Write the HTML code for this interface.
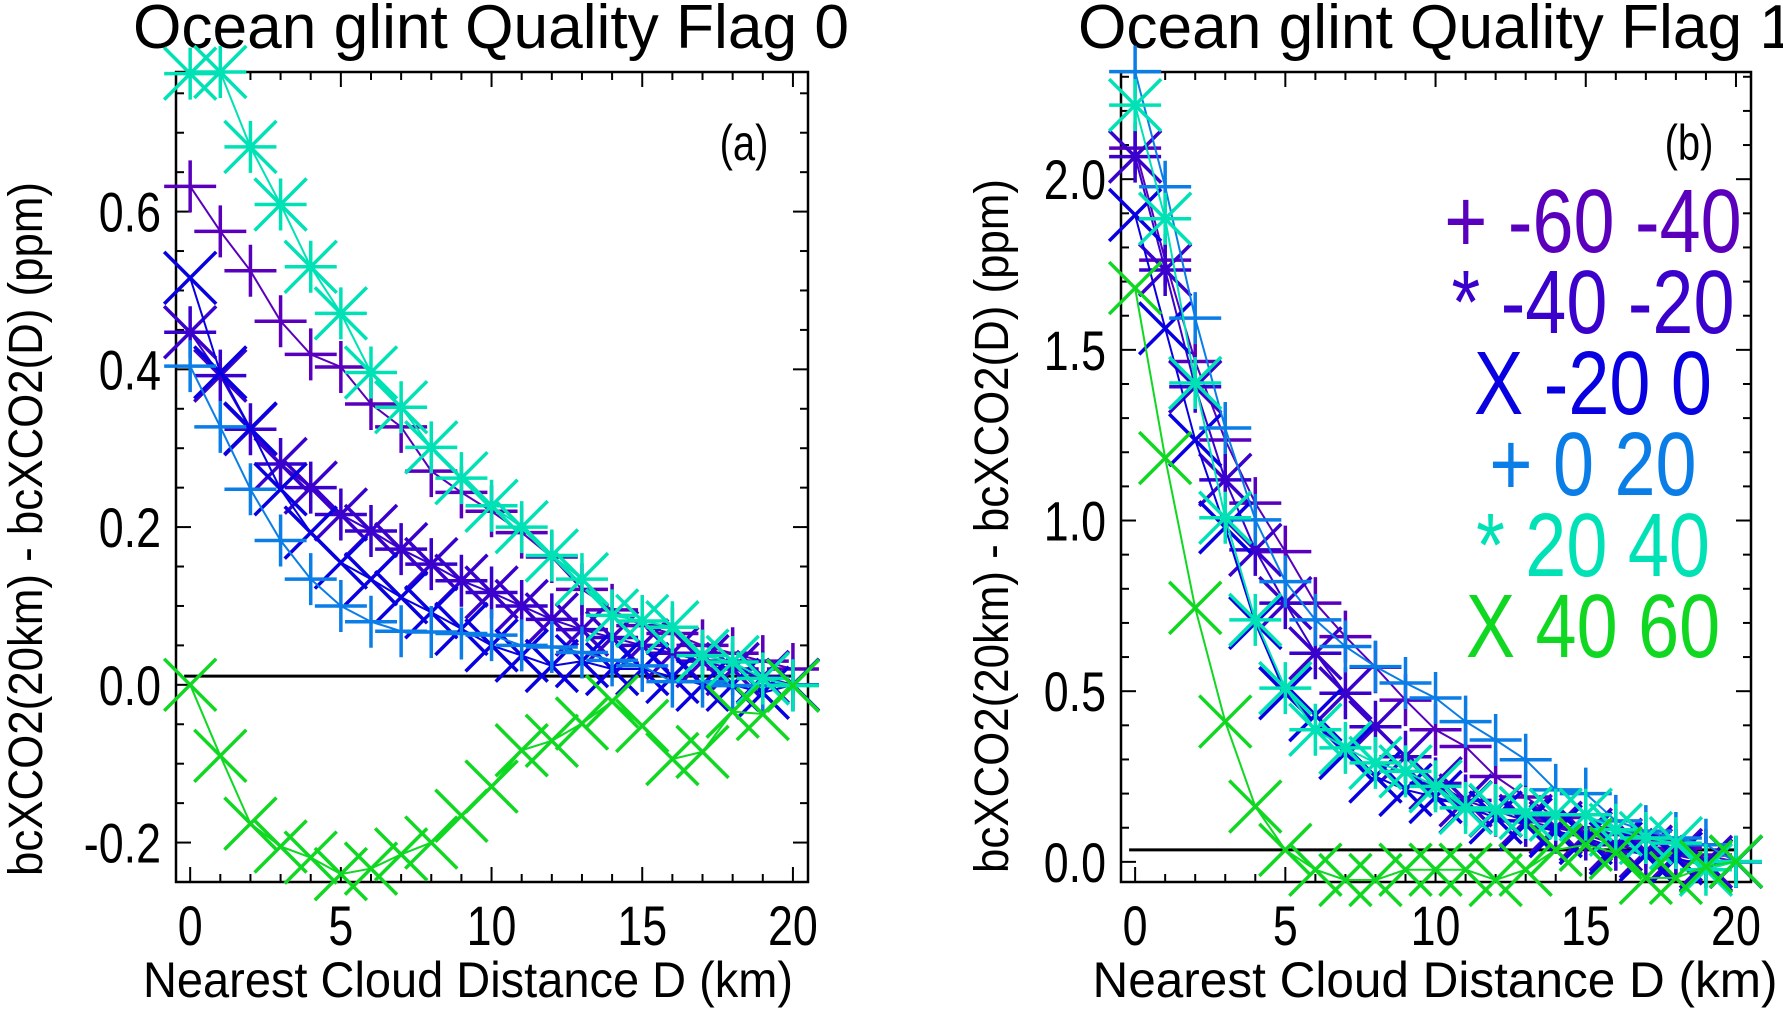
<!DOCTYPE html>
<html><head><meta charset="utf-8"><style>
html,body{margin:0;padding:0;background:#fff;}
svg{display:block;font-family:"Liberation Sans",Arial,sans-serif;}
</style></head><body>
<svg id="chart" width="1783" height="1009" viewBox="0 0 1783 1009" xmlns="http://www.w3.org/2000/svg"></svg>
<script>
const xCats = [0,1,2,3,4,5,6,7,8,9,10,11,12,13,14,15,16,17,18,19,20];
const seriesNames = ["-60 -40","-40 -20","-20 0","0 20","20 40","40 60"];
const seriesColors = ["#5a00bc","#3a00cc","#0800e0","#0a7de6","#00e2b6","#10d822"];
const seriesSymbols = ["plus","star","x","plus","star","x"];
// Panel (a): Quality Flag 0
const a_m60m40 = [0.632,0.575,0.525,0.461,0.419,0.403,0.356,0.327,0.271,0.244,0.220,0.193,0.162,0.121,0.095,0.075,0.065,0.050,0.040,0.030,0.020];
const a_m40m20 = [0.447,0.392,0.324,0.280,0.250,0.216,0.195,0.172,0.153,0.132,0.117,0.100,0.083,0.070,0.060,0.050,0.040,0.030,0.020,0.010,0.000];
const a_m20p0  = [0.516,0.396,0.325,0.248,0.193,0.155,0.134,0.111,0.092,0.071,0.050,0.037,0.024,0.030,0.020,0.020,0.010,0.000,0.000,-0.010,0.000];
const a_p0p20  = [0.404,0.327,0.248,0.183,0.134,0.100,0.080,0.068,0.067,0.065,0.063,0.050,0.048,0.041,0.031,0.024,0.004,0.004,-0.001,-0.001,0.000];
const a_p20p40 = [0.775,0.777,0.682,0.609,0.530,0.471,0.396,0.352,0.301,0.262,0.227,0.200,0.164,0.134,0.088,0.081,0.073,0.037,0.029,0.008,-0.001];
const a_p40p60 = [0.000,-0.090,-0.176,-0.205,-0.219,-0.240,-0.233,-0.215,-0.200,-0.166,-0.129,-0.083,-0.071,-0.049,-0.021,-0.052,-0.094,-0.085,-0.034,-0.037,-0.001];
// Panel (b): Quality Flag 1
const b_m60m40 = [2.091,1.763,1.466,1.236,1.051,0.909,0.758,0.660,0.570,0.474,0.387,0.338,0.250,0.190,0.130,0.100,0.080,0.060,0.040,0.020,0.000];
const b_m40m20 = [2.066,1.734,1.392,1.119,0.914,0.758,0.611,0.494,0.396,0.308,0.230,0.180,0.150,0.120,0.100,0.080,0.050,0.030,0.020,0.000,0.000];
const b_m20p0  = [1.895,1.563,1.236,0.980,0.700,0.494,0.430,0.319,0.250,0.211,0.190,0.160,0.130,0.110,0.090,0.070,0.040,0.020,0.010,-0.010,0.000];
const b_p0p20  = [2.315,1.978,1.593,1.271,1.002,0.821,0.709,0.631,0.572,0.524,0.480,0.411,0.357,0.299,0.211,0.200,0.120,0.090,0.070,0.050,0.000];
const b_p20p40 = [2.217,1.884,1.403,1.008,0.709,0.509,0.387,0.334,0.290,0.265,0.221,0.158,0.152,0.143,0.138,0.138,0.094,0.070,0.055,-0.023,0.001];
const b_p40p60 = [1.681,1.183,0.744,0.411,0.162,0.035,-0.023,-0.053,-0.053,-0.023,-0.023,-0.023,-0.053,-0.023,0.035,0.050,0.026,-0.047,-0.047,-0.014,0.001];
const aTickLabels = ["-0.2","0.0","0.2","0.4","0.6"];
const aTickValues = [-0.2,0,0.2,0.4,0.6];
const bTickLabels = ["0.0","0.5","1.0","1.5","2.0"];
const bTickValues = [0,0.5,1.0,1.5,2.0];
const xTickLabels = ["0","5","10","15","20"];
const xTickValues = [0,5,10,15,20];

const NS="http://www.w3.org/2000/svg";
const svg=document.getElementById('chart');
function mk(tag,attrs,parent){const e=document.createElementNS(NS,tag);for(const k in attrs)e.setAttribute(k,attrs[k]);(parent||svg).appendChild(e);return e;}

const panels=[
 {key:'a',L:176,R:808,T:72,B:882,ymin:-0.25,ymax:0.777,series:[a_m60m40,a_m40m20,a_m20p0,a_p0p20,a_p20p40,a_p40p60],
  tv:aTickValues,tl:aTickLabels,minor:0.05,zero:0.011,title:"Ocean glint Quality Flag 0",titleX:491,tag:"(a)",tagX:744,
  ylabX:42,ylabY:529,xlabX:468,xlabW:650},
 {key:'b',L:1121,R:1751,T:72,B:882,ymin:-0.059,ymax:2.314,series:[b_m60m40,b_m40m20,b_m20p0,b_p0p20,b_p20p40,b_p40p60],
  tv:bTickValues,tl:bTickLabels,minor:0.1,zero:0.035,title:"Ocean glint Quality Flag 1",titleX:1436,tag:"(b)",tagX:1689,
  ylabX:1008,ylabY:526,xlabX:1435,xlabW:685}
];

panels.forEach(p=>{
  const g=mk('g',{});
  
  
  const xs=v=>p.L+(v+0.47)/20.97*(p.R-p.L);
  const ys=v=>p.B-(v-p.ymin)/(p.ymax-p.ymin)*(p.B-p.T);
  const t=mk('text',{x:p.titleX,y:48,'font-size':62,'text-anchor':'middle',fill:'#000',textLength:716,lengthAdjust:'spacingAndGlyphs'},g);
  t.textContent=p.title;
  
  
  const fr=mk('rect',{x:p.L,y:p.T,width:p.R-p.L,height:p.B-p.T,fill:'none',stroke:'#000','stroke-width':2.5},g);
  
  
  for(let v=0;v<=20;v++){
    const len=(v%5===0)?15:8;const X=xs(v);
    mk('line',{x1:X,y1:p.B,x2:X,y2:p.B-len,stroke:'#000','stroke-width':2},g);
    mk('line',{x1:X,y1:p.T,x2:X,y2:p.T+len,stroke:'#000','stroke-width':2},g);
  }
  xTickValues.forEach((v,i)=>{
    const tx=mk('text',{x:0,y:0,'font-size':56,'text-anchor':'middle',fill:'#000',transform:`translate(${xs(v)},945) scale(0.8,1)`},g);
    tx.textContent=xTickLabels[i];
    
    
  });
  const n0=Math.ceil(p.ymin/p.minor-1e-6), n1=Math.floor(p.ymax/p.minor+1e-6);
  for(let n=n0;n<=n1;n++){
    const v=n*p.minor;const major=p.tv.some(t=>Math.abs(t-v)<1e-6);const len=major?15:8;const Y=ys(v);
    mk('line',{x1:p.L,y1:Y,x2:p.L+len,y2:Y,stroke:'#000','stroke-width':2},g);
    mk('line',{x1:p.R,y1:Y,x2:p.R-len,y2:Y,stroke:'#000','stroke-width':2},g);
  }
  p.tv.forEach((v,i)=>{
    const ty=mk('text',{x:0,y:0,'font-size':56,'text-anchor':'end',fill:'#000',transform:`translate(${p.L-15},${ys(v)+20}) scale(0.8,1)`},g);
    ty.textContent=p.tl[i];
    
    
  });
  const xl=mk('text',{x:p.xlabX,y:997,'font-size':50,'text-anchor':'middle',fill:'#000',textLength:p.xlabW,lengthAdjust:'spacingAndGlyphs'},g);
  xl.textContent="Nearest Cloud Distance D (km)";
  
  
  const yl=mk('text',{x:0,y:0,'font-size':48,'text-anchor':'middle',fill:'#000',textLength:694,lengthAdjust:'spacingAndGlyphs',transform:`translate(${p.ylabX},${p.ylabY}) rotate(-90)`},g);
  yl.textContent="bcXCO2(20km) - bcXCO2(D) (ppm)";
  
  
  const tg=mk('text',{x:0,y:0,'font-size':50,'text-anchor':'middle',fill:'#000',transform:`translate(${p.tagX},160) scale(0.8,1)`},g);
  tg.textContent=p.tag;
  
  
  const zl=mk('line',{x1:xs(-0.2),y1:ys(p.zero),x2:xs(20),y2:ys(p.zero),stroke:'#000','stroke-width':3},g);
  
  
  p.series.forEach((vals,si)=>{
    const col=seriesColors[si];
    const sg=mk('g',{},g);
    
    
    const pts=vals.map((v,i)=>xs(xCats[i]).toFixed(1)+','+ys(v).toFixed(1)).join(' ');
    const pl=mk('polyline',{points:pts,fill:'none',stroke:col,'stroke-width':2},sg);
    
    
    vals.forEach((v,i)=>{
      const X=xs(xCats[i]),Y=ys(v),h=26,sym=seriesSymbols[si];
      let d='';
      if(sym==='plus'||sym==='star') d+=`M${X-h},${Y}H${X+h}M${X},${Y-h}V${Y+h}`;
      if(sym==='x'||sym==='star') d+=`M${X-h},${Y-h}L${X+h},${Y+h}M${X-h},${Y+h}L${X+h},${Y-h}`;
      const m=mk('path',{d:d,stroke:col,'stroke-width':3.5,fill:'none'},sg);
      
      
    });
  });
});

const legendLines=["+ -60 -40","* -40 -20","X -20 0","+ 0 20","* 20 40","X 40 60"];
const lg=mk('g',{});


legendLines.forEach((s,i)=>{
  const t=mk('text',{x:0,y:0,'font-size':90,'text-anchor':'middle',fill:seriesColors[i],transform:`translate(1593,${252+i*81}) scale(0.82,1)`},lg);
  t.textContent=s;
  
  
});
</script>
</body></html>
